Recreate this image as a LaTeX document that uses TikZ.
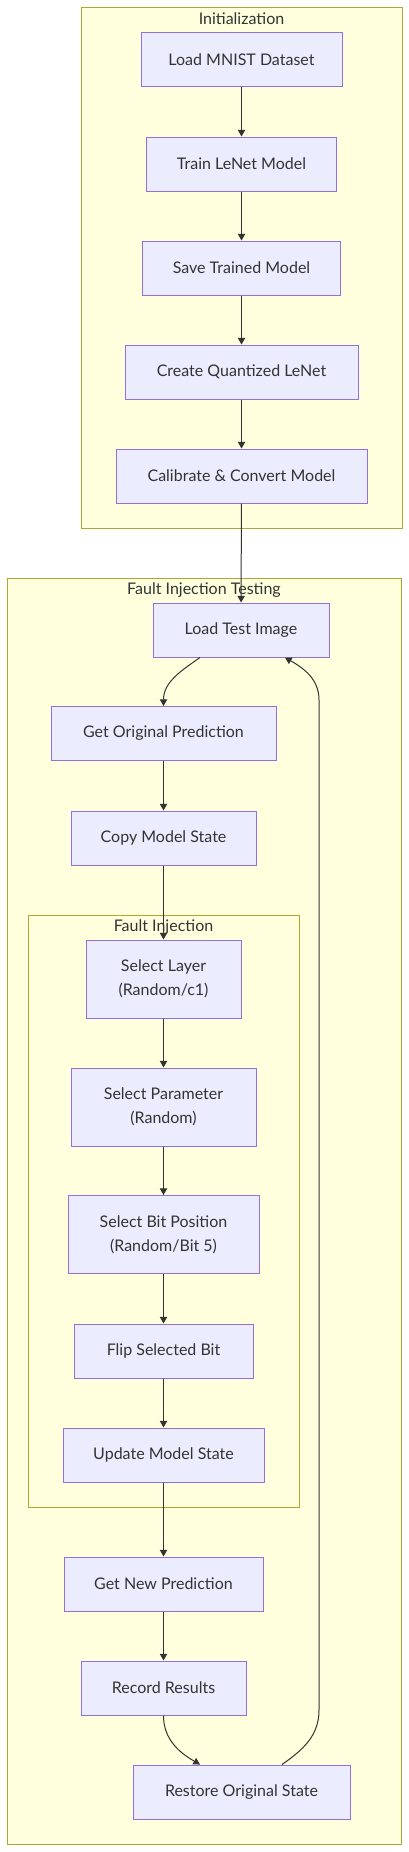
\documentclass[tikz,border=0pt]{standalone}
\usepackage{fontspec}
\setmainfont{Lato}
\usepackage{tikz}
\usetikzlibrary{arrows.meta,calc}

\definecolor{boxfill}{HTML}{ECECFF}
\definecolor{boxline}{HTML}{9370DB}
\definecolor{grpfill}{HTML}{FFFFDE}
\definecolor{grpline}{HTML}{AAAA33}
\definecolor{ink}{HTML}{333333}

\tikzset{
    box/.style={draw=boxline, fill=boxfill, line width=0.75pt, inner sep=0pt,
        minimum height=40.5pt, align=center, text=ink},
    tallbox/.style={box, minimum height=58.5pt},
    group/.style={draw=grpline, fill=grpfill, line width=0.75pt},
    grptitle/.style={text=ink, inner sep=0pt},
    edge/.style={draw=ink, line width=0.75pt, -{Triangle[length=5pt,width=5.5pt]}}
}

\begin{document}
\begin{tikzpicture}[x=0.75pt, y=-0.75pt, font=\fontsize{12}{18}\selectfont]
    \useasboundingbox (0,0) rectangle (409,1852);

    % groups
    \draw[group] (81,8) rectangle (402,528);
    \draw[group] (7,578) rectangle (401,1844);
    \draw[group] (28,915) rectangle (299,1507);
    \node[grptitle] (initT) at (241.5,19) {Initialization};
    \node[grptitle] (testT) at (204,590) {Fault Injection Testing};
    \node[grptitle] (faultT) at (163.5,927) {Fault Injection};

    % initialization steps
    \node[box, minimum width=150.75pt] (mnist) at (241.5,60) {Load MNIST Dataset};
    \node[box, minimum width=142.5pt] (train) at (241.5,164) {Train LeNet Model};
    \node[box, minimum width=148.5pt] (save) at (241.5,268) {Save Trained Model};
    \node[box, minimum width=174.75pt] (quant) at (241.5,372) {Create Quantized LeNet};
    \node[box, minimum width=188.25pt] (calib) at (241.5,476) {Calibrate \& Convert Model};

    % testing loop
    \node[box, minimum width=132pt] (load) at (241,630) {Load Test Image};
    \node[box, minimum width=168.75pt] (orig) at (163.5,733.5) {Get Original Prediction};
    \node[box, minimum width=138.75pt] (copy) at (163.5,838) {Copy Model State};

    % fault injection
    \node[tallbox, minimum width=116.25pt] (layer) at (163.5,979) {Select Layer\\(Random/c1)};
    \node[tallbox, minimum width=138.75pt] (param) at (163.5,1107) {Select Parameter\\(Random)};
    \node[tallbox, minimum width=143.25pt] (bit) at (163.5,1234.5) {Select Bit Position\\(Random/Bit 5)};
    \node[box, minimum width=134.25pt] (flip) at (163.5,1351) {Flip Selected Bit};
    \node[box, minimum width=150.75pt] (update) at (163.5,1455) {Update Model State};

    % after injection
    \node[box, minimum width=149.25pt] (newp) at (163.5,1584) {Get New Prediction};
    \node[box, minimum width=123.75pt] (record) at (163.5,1688) {Record Results};
    \node[box, minimum width=162.75pt] (restore) at (241.5,1792) {Restore Original State};

    % straight arrows
    \foreach \a/\b in {mnist/train, train/save, save/quant, quant/calib, calib/load,
        orig/copy, copy/layer, layer/param, param/bit, bit/flip, flip/update,
        update/newp, newp/record} {
        \draw[edge] (\a) -- (\b);
    }

    % bent arrows
    \draw[edge] ($(load.south)+(-41,0)$) to[out=-145, in=90] (orig.north);
    \draw[edge] (record.south) to[out=-90, in=150] ($(restore.north)+(-41.5,0)$);
    \coordinate (loopLow) at (319,1710);
    \coordinate (loopHigh) at (319,700);
    \draw[edge] ($(restore.north)+(40.5,0)$) to[out=35, in=-90] (loopLow)
        -- (loopHigh) to[out=90, in=-30] ($(load.south)+(44,0)$);
\end{tikzpicture}
\end{document}
